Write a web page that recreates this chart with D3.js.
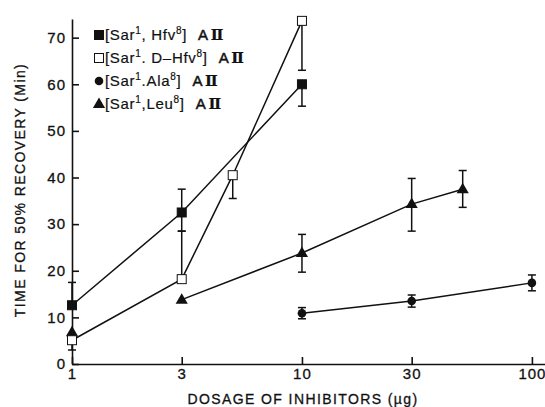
<!DOCTYPE html>
<html>
<head>
<meta charset="utf-8">
<script src="https://cdn.jsdelivr.net/npm/d3@7"></script>
<style>
  body { margin: 0; background: #fff; }
  text { font-family: "Liberation Sans", Arial, sans-serif; fill: #111; }
</style>
</head>
<body>
<div id="chart"></div>
<script>
// data: [dose, time, errLow, errHigh]
const hfv = [[1, 12.6, 12.6, 17.5], [3, 32.5, 28.5, 37.5], [10, 60, 55.3, 60]]
const dHfv = [[1, 5.1, 3, 5.1], [3, 18.2, 18.2, 28.5], [5, 40.5, 35.5, 40.5], [10, 73.6, 63, 73.6]]
const ala = [[10, 10.9, 9.7, 12.1], [30, 13.5, 12.2, 14.8], [100, 17.4, 15.7, 19.1]]
const leu = [[3, 13.8, 13.8, 13.8], [10, 23.8, 19.7, 27.8], [30, 34.3, 28.5, 39.8], [50, 37.5, 33.6, 41.5]]
const leuAlone = [[1, 6.8, 6.8, 6.8]]

const xTicks = [1, 3, 10, 30, 100]
const yTicks = [0, 10, 20, 30, 40, 50, 60, 70]

const legendItems = [
  { sym: "fsq", parts: [["[Sar", 0], ["1", 1], [", Hfv", 0], ["8", 1], ["]", 0]] },
  { sym: "osq", parts: [["[Sar", 0], ["1", 1], [". D\u2013Hfv", 0], ["8", 1], ["]", 0]] },
  { sym: "dot", parts: [["[Sar", 0], ["1", 1], [".Ala", 0], ["8", 1], ["]", 0]] },
  { sym: "tri", parts: [["[Sar", 0], ["1", 1], [",Leu", 0], ["8", 1], ["]", 0]] }
]

const width = 545, height = 407

const svg = d3.select("#chart").append("svg")
    .attr("width", width)
    .attr("height", height)

const x = d3.scaleLog().domain([1, 114]).range([72, 545])
const y = d3.scaleLinear().domain([0, 74]).range([364, 19])

// axes, ticks pointing inward
const xAxis = svg.append("g")
    .attr("transform", "translate(0," + y(0) + ")")
    .call(d3.axisBottom(x).tickValues(xTicks).tickFormat(d3.format("d"))
        .tickSizeInner(-7).tickSizeOuter(0).tickPadding(4))
const yAxis = svg.append("g")
    .attr("transform", "translate(" + x(1) + ",0)")
    .call(d3.axisLeft(y).tickValues(yTicks).tickSizeInner(-7).tickSizeOuter(0).tickPadding(6))

;[xAxis, yAxis].forEach(a => {
    a.selectAll("path, line").attr("stroke", "#111").attr("stroke-width", 1.6)
    a.selectAll("text").style("font-size", "15px").style("letter-spacing", "1px").attr("fill", "#111")
        .attr("stroke", "#111").attr("stroke-width", 0.3)
})

svg.append("text")
    .attr("transform", "translate(25,190) rotate(-90)")
    .attr("text-anchor", "middle")
    .style("font-size", "14px").style("letter-spacing", "1.4px")
    .attr("stroke", "#111").attr("stroke-width", 0.3)
    .text("TIME FOR 50% RECOVERY (Min)")

svg.append("text")
    .attr("x", 303).attr("y", 404)
    .attr("text-anchor", "middle")
    .style("font-size", "14px").style("letter-spacing", "1.4px")
    .attr("stroke", "#111").attr("stroke-width", 0.3)
    .text("DOSAGE OF INHIBITORS (\u00b5g)")

const line = d3.line().x(d => x(d[0])).y(d => y(d[1]))

function drawMarker(g, sym, cx, cy) {
    if (sym === "fsq" || sym === "osq") {
        g.append("rect").attr("x", cx - 4.5).attr("y", cy - 4.5).attr("width", 9).attr("height", 9)
            .attr("fill", sym === "fsq" ? "#111" : "#fff").attr("stroke", "#111").attr("stroke-width", 1)
    } else if (sym === "dot") {
        g.append("circle").attr("cx", cx).attr("cy", cy).attr("r", 4.3).attr("fill", "#111")
    } else {
        g.append("path").attr("d", d3.symbol(d3.symbolTriangle, 64)())
            .attr("transform", "translate(" + cx + "," + (cy + 0.5) + ")").attr("fill", "#111")
    }
}

function drawSeries(data, sym, withLine) {
    const g = svg.append("g")
    if (withLine) {
        g.append("path").datum(data).attr("d", line)
            .attr("fill", "none").attr("stroke", "#111").attr("stroke-width", 1.5)
    }
    data.forEach(d => {
        if (d[2] !== d[3]) {
            const cx = x(d[0])
            g.append("line").attr("x1", cx).attr("x2", cx).attr("y1", y(d[2])).attr("y2", y(d[3]))
                .attr("stroke", "#111").attr("stroke-width", 1.5)
            ;[d[2], d[3]].forEach(v => {
                if (v !== d[1]) {
                    g.append("line").attr("x1", cx - 4).attr("x2", cx + 4).attr("y1", y(v)).attr("y2", y(v))
                        .attr("stroke", "#111").attr("stroke-width", 1.5)
                }
            })
        }
    })
    data.forEach(d => drawMarker(g, sym, x(d[0]), y(d[1])))
}

drawSeries(hfv, "fsq", true)
drawSeries(leu, "tri", true)
drawSeries(leuAlone, "tri", false)
drawSeries(ala, "dot", true)
drawSeries(dHfv, "osq", true)

// legend
const legend = svg.append("g")
legendItems.forEach((item, i) => {
    const ly = 35 + i * 23
    drawMarker(legend, item.sym, 99, ly)
    const t = legend.append("text").attr("x", 105).attr("y", ly + 5)
        .style("font-size", "15px").style("letter-spacing", "0.7px")
        .attr("stroke", "#111").attr("stroke-width", 0.2)
    item.parts.forEach(([s, sup], j) => {
        const sp = t.append("tspan").text(s)
        if (sup) sp.attr("dy", -6).style("font-size", "10px")
        else if (j > 0) sp.attr("dy", 6)
    })
    t.append("tspan").attr("dx", 11).attr("stroke-width", 0.5)
        .text("A")
    t.append("tspan").attr("dx", 2)
        .style("font-family", "'DejaVu Serif', serif").style("font-weight", "bold")
        .text("\u2161")
})
</script>
</body>
</html>
